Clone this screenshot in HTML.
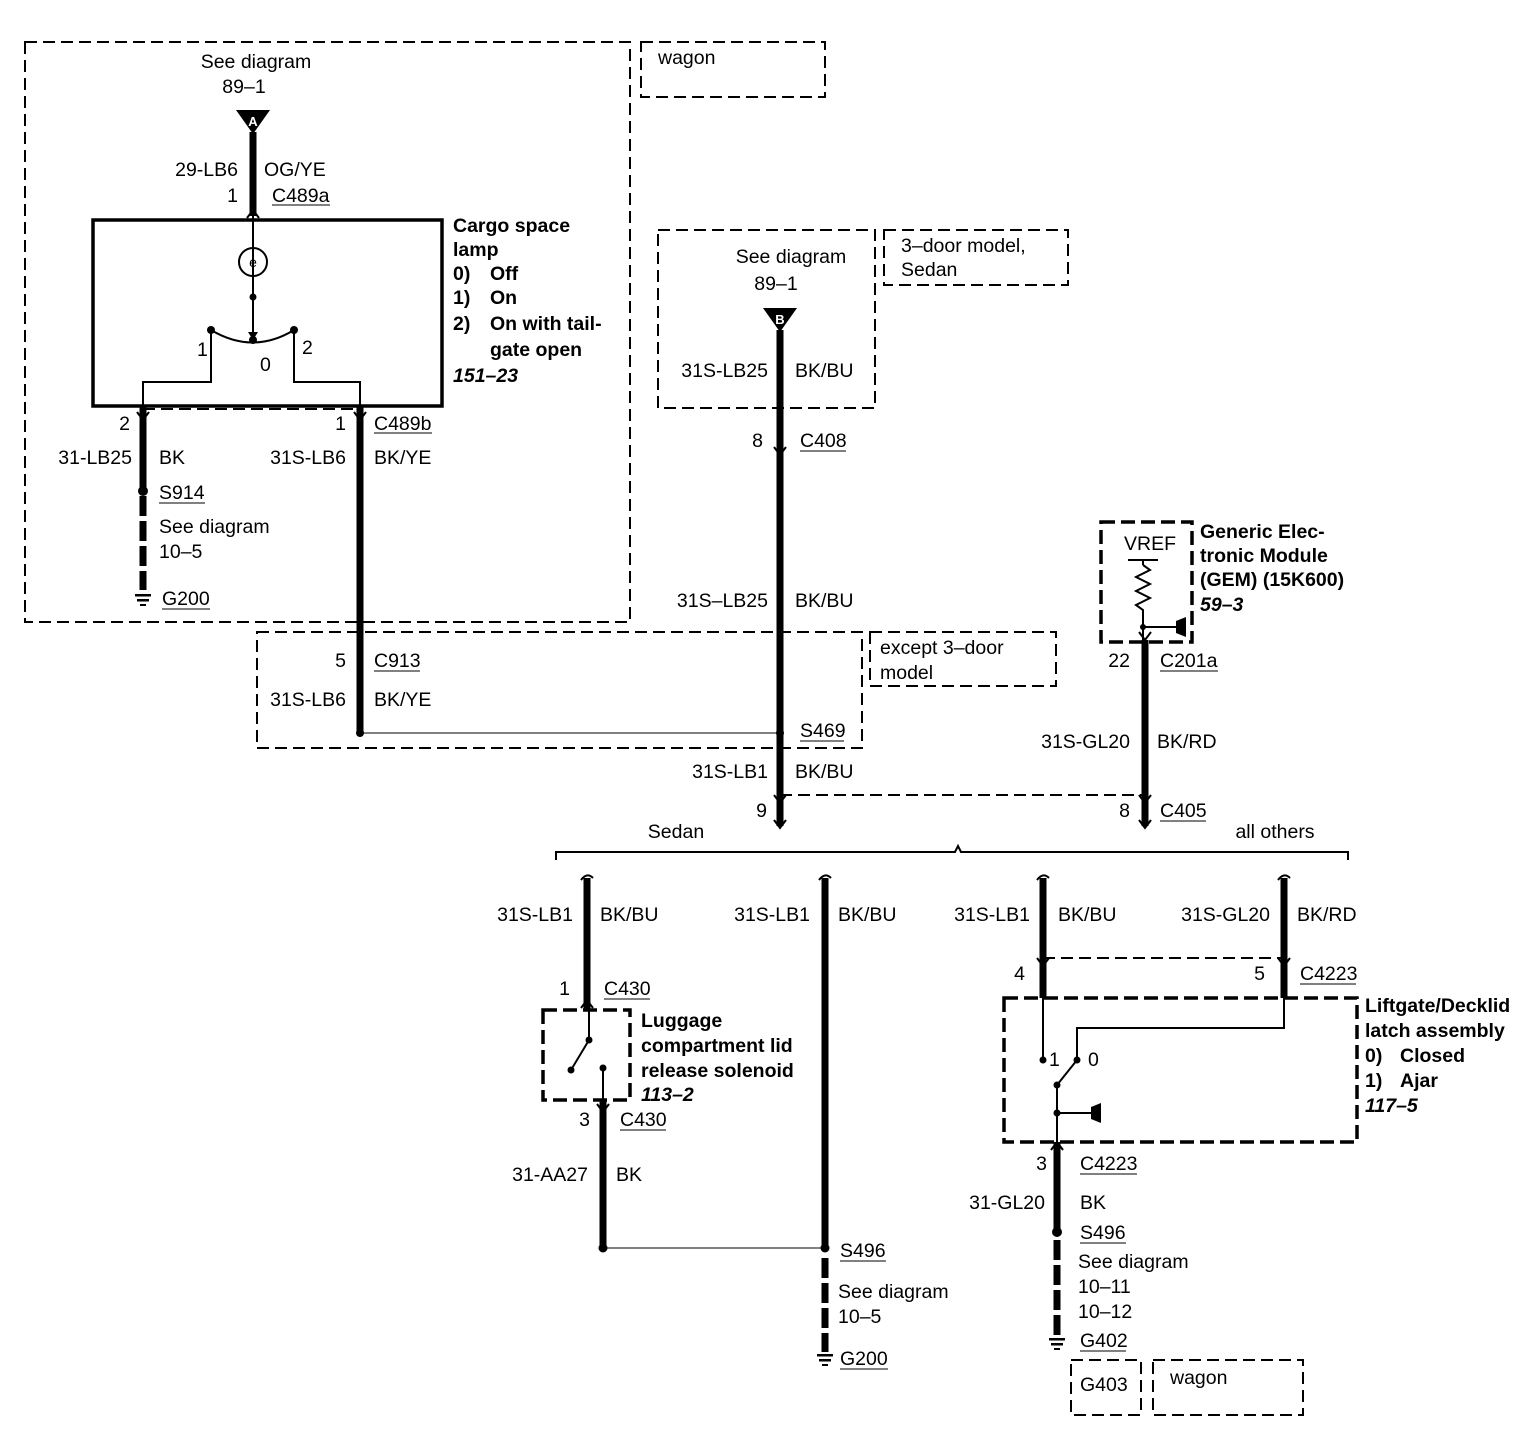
<!DOCTYPE html>
<html><head><meta charset="utf-8"><style>
html,body{margin:0;padding:0;background:#fff;}
svg{display:block;}
text{font-family:"Liberation Sans",Arial,sans-serif;font-size:19.5px;fill:#000;}
.b{font-weight:bold;}
.i{font-weight:bold;font-style:italic;}
.r{text-anchor:end;}
.m{text-anchor:middle;}
</style></head><body>
<svg width="1524" height="1440" viewBox="0 0 1524 1440" xmlns="http://www.w3.org/2000/svg">
<g fill="none" stroke="#000">
<g stroke-width="2" stroke-dasharray="12,6">
<rect x="25" y="42" width="605" height="580"/>
<rect x="641" y="42" width="184" height="55"/>
<rect x="658" y="230" width="217" height="178"/>
<rect x="884" y="230" width="184" height="55"/>
<rect x="257" y="632" width="605" height="116"/>
<rect x="870" y="632" width="186" height="54"/>
<rect x="1071" y="1360" width="70" height="55"/>
<rect x="1153" y="1360" width="150" height="55"/>
<line x1="143" y1="409" x2="360" y2="409"/>
<line x1="360" y1="733" x2="780" y2="733" stroke-width="1" stroke-dasharray="none"/>
<line x1="780" y1="795" x2="1145" y2="795"/>
<line x1="1043" y1="958" x2="1284" y2="958"/>
</g>
<g stroke-width="3.5" stroke-dasharray="14,6">
<rect x="1101" y="522" width="91" height="120"/>
<rect x="543" y="1010" width="87" height="90"/>
<rect x="1004" y="998" width="353" height="144"/>
</g>
<rect x="93" y="220" width="349" height="186" stroke-width="3.5"/>
<g stroke-width="7">
<line x1="253" y1="132" x2="253" y2="216"/>
<line x1="143" y1="406" x2="143" y2="488"/>
<line x1="360" y1="406" x2="360" y2="733"/>
<line x1="780" y1="330" x2="780" y2="826"/>
<line x1="1145" y1="640" x2="1145" y2="826"/>
<line x1="587" y1="878" x2="587" y2="1010"/>
<line x1="825" y1="878" x2="825" y2="1250"/>
<line x1="1043" y1="878" x2="1043" y2="998"/>
<line x1="1284" y1="878" x2="1284" y2="998"/>
<line x1="603" y1="1100" x2="603" y2="1248"/>
<line x1="1057" y1="1142" x2="1057" y2="1230"/>
</g>
<g stroke-width="7" stroke-dasharray="20,5">
<line x1="143" y1="496" x2="143" y2="590"/>
<line x1="825" y1="1258" x2="825" y2="1352"/>
<line x1="1057" y1="1240" x2="1057" y2="1336"/>
</g>
<g stroke-width="2">
<line x1="253" y1="216" x2="253" y2="335"/>
<circle cx="253" cy="262" r="14"/>
<path d="M211 330 Q253 355 294 330"/>
<polyline points="211,330 211,382 143,382 143,406"/>
<polyline points="294,330 294,382 360,382 360,406"/>
<line x1="603" y1="1248" x2="825" y2="1248" stroke-width="1"/>
<line x1="589" y1="1010" x2="589" y2="1040"/>
<line x1="589" y1="1040" x2="571" y2="1070"/>
<line x1="603" y1="1068" x2="603" y2="1100"/>
<line x1="1143" y1="560" x2="1143" y2="565"/>
<polyline points="1143,565 1150,570 1136,577 1150,584 1136,591 1150,598 1136,605 1143,610 1143,640"/>
<line x1="1128" y1="560" x2="1158" y2="560"/>
<line x1="1143" y1="627" x2="1180" y2="627"/>
<line x1="1043" y1="998" x2="1043" y2="1060"/>
<polyline points="1284,998 1284,1028 1077,1028 1077,1060"/>
<line x1="1077" y1="1060" x2="1057" y2="1085"/>
<line x1="1057" y1="1085" x2="1057" y2="1142"/>
<line x1="1057" y1="1113" x2="1095" y2="1113"/>
<path d="M556 860 L556 852 L955 852 L958 846 L961 852 L1348 852 L1348 860"/>
</g>
<g stroke-width="1">
<line x1="272" y1="205" x2="330" y2="205"/><line x1="374" y1="433" x2="432" y2="433"/>
<line x1="159" y1="503" x2="205" y2="503"/><line x1="162" y1="609" x2="210" y2="609"/>
<line x1="374" y1="671" x2="420" y2="671"/><line x1="800" y1="451" x2="846" y2="451"/>
<line x1="800" y1="741" x2="844" y2="741"/><line x1="1160" y1="671" x2="1218" y2="671"/>
<line x1="1160" y1="821" x2="1206" y2="821"/><line x1="604" y1="999" x2="650" y2="999"/>
<line x1="620" y1="1130" x2="666" y2="1130"/><line x1="1300" y1="984" x2="1356" y2="984"/>
<line x1="1080" y1="1174" x2="1137" y2="1174"/><line x1="840" y1="1261" x2="886" y2="1261"/>
<line x1="840" y1="1369" x2="888" y2="1369"/><line x1="1080" y1="1243" x2="1126" y2="1243"/>
<line x1="1080" y1="1351" x2="1126" y2="1351"/>
</g>
<g stroke-width="2">
<path d="M247 218 L253 210 L259 218"/>
<path d="M137 412 L143 420 L149 412"/><path d="M354 412 L360 420 L366 412"/>
<path d="M774 447 L780 455 L786 447"/>
<path d="M774 795 L780 803 L786 795"/><path d="M774 820 L780 828 L786 820"/>
<path d="M1139 632 L1145 640 L1151 632"/>
<path d="M1139 795 L1145 803 L1151 795"/><path d="M1139 820 L1145 828 L1151 820"/>
<path d="M581 880 Q587 872 593 878"/><path d="M819 880 Q825 872 831 878"/>
<path d="M1037 880 Q1043 872 1049 878"/><path d="M1278 880 Q1284 872 1290 878"/>
<path d="M1037 958 L1043 966 L1049 958"/><path d="M1278 958 L1284 966 L1290 958"/>
<path d="M581 1008 L587 1000 L593 1008"/><path d="M597 1104 L603 1112 L609 1104"/>
<path d="M1051 1150 L1057 1142 L1063 1150"/>
</g>
</g>
<g fill="#000">
<polygon points="236,110 270,110 253,134"/>
<polygon points="763,308 797,308 780,332"/>
<circle cx="253" cy="297" r="3.5"/><polygon points="248,332 258,332 253,340"/><circle cx="253" cy="340" r="4"/>
<circle cx="211" cy="330" r="4"/><circle cx="294" cy="330" r="4"/>
<circle cx="143" cy="491" r="5"/><circle cx="360" cy="733" r="4"/><circle cx="780" cy="733" r="4"/>
<circle cx="1143" cy="627" r="3"/><polygon points="1176,621 1186,617 1186,637 1176,633"/>
<circle cx="589" cy="1040" r="3.5"/><circle cx="571" cy="1070" r="3.5"/><circle cx="603" cy="1068" r="3.5"/>
<circle cx="603" cy="1248" r="4.5"/><circle cx="825" cy="1248" r="4.5"/>
<circle cx="1043" cy="1060" r="3.5"/><circle cx="1077" cy="1060" r="3.5"/><circle cx="1057" cy="1085" r="3.5"/>
<circle cx="1057" cy="1113" r="3.5"/><polygon points="1091,1107 1101,1103 1101,1123 1091,1119"/>
<circle cx="1057" cy="1232" r="5"/>
<rect x="135" y="594" width="16" height="2.5"/><rect x="137" y="599" width="12" height="2.5"/><rect x="140" y="604" width="6" height="2"/>
<rect x="817" y="1354" width="16" height="2.5"/><rect x="819" y="1359" width="12" height="2.5"/><rect x="822" y="1364" width="6" height="2"/>
<rect x="1049" y="1338" width="16" height="2.5"/><rect x="1051" y="1343" width="12" height="2.5"/><rect x="1054" y="1348" width="6" height="2"/>
</g>
<text x="253" y="126" class="m b" style="fill:#fff;font-size:13px">A</text>
<text x="780" y="324" class="m b" style="fill:#fff;font-size:13px">B</text>
<text x="253" y="267" class="m" style="font-size:14px">e</text>
<text x="256" y="68" class="m">See diagram</text><text x="244" y="93" class="m">89–1</text>
<text x="658" y="64">wagon</text>
<text x="238" y="176" class="r">29-LB6</text><text x="264" y="176">OG/YE</text>
<text x="238" y="202" class="r">1</text><text x="272" y="202">C489a</text>
<text x="197" y="356">1</text><text x="260" y="371">0</text><text x="302" y="354">2</text>
<text x="453" y="232" class="b">Cargo space</text><text x="453" y="256" class="b">lamp</text>
<text x="453" y="280" class="b">0)</text><text x="490" y="280" class="b">Off</text>
<text x="453" y="304" class="b">1)</text><text x="490" y="304" class="b">On</text>
<text x="453" y="330" class="b">2)</text><text x="490" y="330" class="b">On with tail-</text>
<text x="490" y="356" class="b">gate open</text><text x="453" y="382" class="i">151–23</text>
<text x="130" y="430" class="r">2</text><text x="346" y="430" class="r">1</text><text x="374" y="430">C489b</text>
<text x="132" y="464" class="r">31-LB25</text><text x="159" y="464">BK</text>
<text x="346" y="464" class="r">31S-LB6</text><text x="374" y="464">BK/YE</text>
<text x="159" y="499">S914</text><text x="159" y="533">See diagram</text><text x="159" y="558">10–5</text>
<text x="162" y="605">G200</text>
<text x="791" y="263" class="m">See diagram</text><text x="776" y="290" class="m">89–1</text>
<text x="901" y="252">3–door model,</text><text x="901" y="276">Sedan</text>
<text x="768" y="377" class="r">31S-LB25</text><text x="795" y="377">BK/BU</text>
<text x="763" y="447" class="r">8</text><text x="800" y="447">C408</text>
<text x="768" y="607" class="r">31S–LB25</text><text x="795" y="607">BK/BU</text>
<text x="1200" y="538" class="b">Generic Elec-</text><text x="1200" y="562" class="b">tronic Module</text>
<text x="1200" y="586" class="b">(GEM) (15K600)</text><text x="1200" y="611" class="i">59–3</text>
<text x="1150" y="550" class="m">VREF</text>
<text x="346" y="667" class="r">5</text><text x="374" y="667">C913</text>
<text x="346" y="706" class="r">31S-LB6</text><text x="374" y="706">BK/YE</text>
<text x="880" y="654">except 3–door</text><text x="880" y="679">model</text>
<text x="1130" y="667" class="r">22</text><text x="1160" y="667">C201a</text>
<text x="800" y="737">S469</text>
<text x="1130" y="748" class="r">31S-GL20</text><text x="1157" y="748">BK/RD</text>
<text x="768" y="778" class="r">31S-LB1</text><text x="795" y="778">BK/BU</text>
<text x="767" y="817" class="r">9</text><text x="1130" y="817" class="r">8</text><text x="1160" y="817">C405</text>
<text x="676" y="838" class="m">Sedan</text><text x="1275" y="838" class="m">all others</text>
<text x="573" y="921" class="r">31S-LB1</text><text x="600" y="921">BK/BU</text>
<text x="810" y="921" class="r">31S-LB1</text><text x="838" y="921">BK/BU</text>
<text x="1030" y="921" class="r">31S-LB1</text><text x="1058" y="921">BK/BU</text>
<text x="1270" y="921" class="r">31S-GL20</text><text x="1297" y="921">BK/RD</text>
<text x="1025" y="980" class="r">4</text><text x="1265" y="980" class="r">5</text><text x="1300" y="980">C4223</text>
<text x="570" y="995" class="r">1</text><text x="604" y="995">C430</text>
<text x="641" y="1027" class="b">Luggage</text><text x="641" y="1052" class="b">compartment lid</text>
<text x="641" y="1077" class="b">release solenoid</text><text x="641" y="1101" class="i">113–2</text>
<text x="1365" y="1012" class="b">Liftgate/Decklid</text><text x="1365" y="1037" class="b">latch assembly</text>
<text x="1365" y="1062" class="b">0)</text><text x="1400" y="1062" class="b">Closed</text>
<text x="1365" y="1087" class="b">1)</text><text x="1400" y="1087" class="b">Ajar</text>
<text x="1365" y="1112" class="i">117–5</text>
<text x="1049" y="1066">1</text><text x="1088" y="1066">0</text>
<text x="590" y="1126" class="r">3</text><text x="620" y="1126">C430</text>
<text x="1047" y="1170" class="r">3</text><text x="1080" y="1170">C4223</text>
<text x="588" y="1181" class="r">31-AA27</text><text x="616" y="1181">BK</text>
<text x="1045" y="1209" class="r">31-GL20</text><text x="1080" y="1209">BK</text>
<text x="1080" y="1239">S496</text><text x="1078" y="1268">See diagram</text>
<text x="1078" y="1293">10–11</text><text x="1078" y="1318">10–12</text><text x="1080" y="1347">G402</text>
<text x="840" y="1257">S496</text><text x="838" y="1298">See diagram</text><text x="838" y="1323">10–5</text>
<text x="840" y="1365">G200</text>
<text x="1080" y="1391">G403</text><text x="1170" y="1384">wagon</text>
</svg>
</body></html>
